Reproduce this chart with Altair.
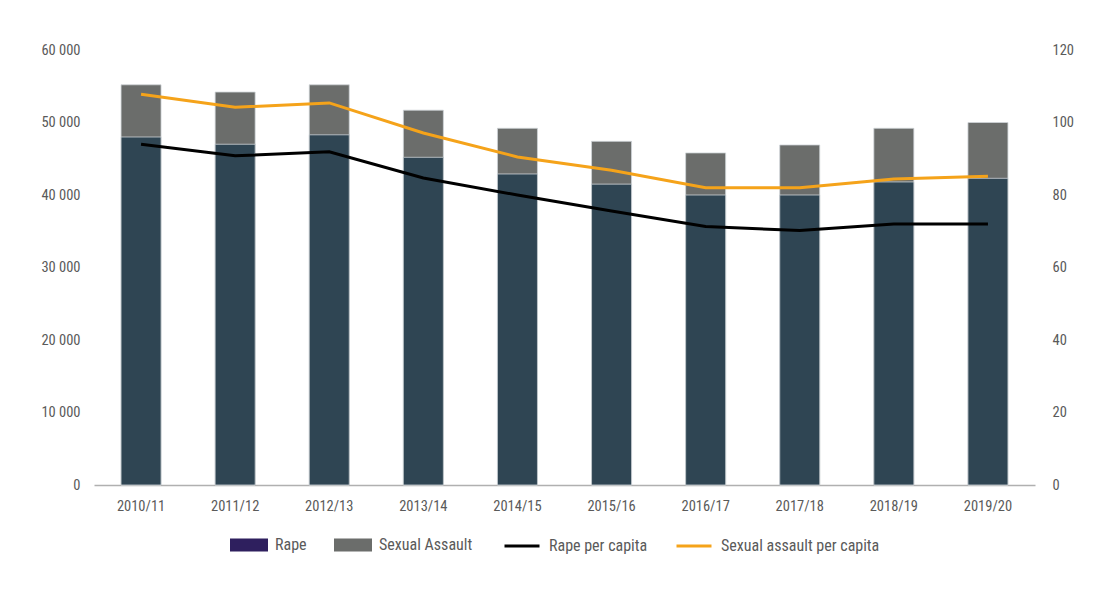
import altair as alt
import pandas as pd

years = ["2010/11", "2011/12", "2012/13", "2013/14", "2014/15",
         "2015/16", "2016/17", "2017/18", "2018/19", "2019/20"]
rape = [48000, 47000, 48300, 45200, 42900, 41500, 40000, 40000, 41800, 42300]
sexual_assault = [55200, 54200, 55200, 51700, 49200, 47400, 45800, 46900, 49200, 50000]
rape_pc = [94.0, 90.8, 91.9, 84.7, 80.0, 75.6, 71.3, 70.2, 72.0, 72.0]
sa_pc = [107.8, 104.2, 105.4, 97.1, 90.5, 86.8, 82.0, 82.0, 84.4, 85.2]

df = pd.DataFrame({"year": years, "rape": rape, "sa": sexual_assault,
                   "rape_pc": rape_pc, "sa_pc": sa_pc})

bar_long = pd.DataFrame({
    "year": years * 2,
    "value": sexual_assault + rape,
    "series": ["Sexual Assault"] * len(years) + ["Rape"] * len(years),
})
line_long = pd.DataFrame({
    "year": years * 2,
    "value": rape_pc + sa_pc,
    "series": ["Rape per capita"] * len(years) + ["Sexual assault per capita"] * len(years),
})

FONT = "'Roboto Condensed', 'DejaVu Sans Condensed', Roboto, sans-serif"
LABEL = "#5a5a5a"
FS = 14.5
LFS = 16

x = alt.X("year:N", sort=years, title=None,
          scale=alt.Scale(paddingInner=0.575, paddingOuter=0.2875),
          axis=alt.Axis(labelAngle=0, ticks=False, domainColor="#b0b0b0",
                        domainWidth=1.5, labelPadding=14, labelFontSize=FS,
                        labelColor=LABEL, labelFont=FONT))

yleft_scale = alt.Scale(domain=[0, 60000])
yleft_axis = alt.Axis(values=[0, 10000, 20000, 30000, 40000, 50000, 60000],
                      labelExpr="replace(format(datum.value, ','), ',', ' ')",
                      grid=False, domain=False, ticks=False, labelPadding=14,
                      labelFontSize=FS, labelColor=LABEL, labelFont=FONT,
                      title=None)

sa_bars = alt.Chart(df).mark_bar(color="#6b6d6b", stroke="#cfd4d8",
                                 strokeWidth=0.8).encode(
    x=x,
    y=alt.Y("sa:Q", scale=yleft_scale, axis=yleft_axis),
)
rape_bars = alt.Chart(df).mark_bar(color="#2f4553", stroke="#cfd4d8",
                                   strokeWidth=0.8).encode(
    x=x,
    y=alt.Y("rape:Q", scale=yleft_scale),
)
legend_bars = alt.Chart(bar_long).mark_point(opacity=0, filled=True).encode(
    x=x,
    y=alt.Y("value:Q", scale=yleft_scale),
    fill=alt.Fill("series:N",
                  scale=alt.Scale(domain=["Rape", "Sexual Assault"],
                                  range=["#2e1f5e", "#6b6d6b"]),
                  legend=alt.Legend(orient="none", direction="horizontal",
                                    legendX=136, legendY=476, title=None,
                                    symbolType="M-1,-0.34L1,-0.34L1,0.34L-1,0.34Z",
                                    symbolSize=1444, symbolOpacity=1,
                                    symbolStrokeWidth=0,
                                    labelFontSize=LFS, labelColor=LABEL,
                                    labelFont=FONT, labelOffset=7,
                                    columnPadding=27)),
)

left = alt.layer(sa_bars, rape_bars, legend_bars)

lines = alt.Chart(line_long).mark_line(strokeWidth=3).encode(
    x=x,
    y=alt.Y("value:Q", scale=alt.Scale(domain=[0, 120]),
            axis=alt.Axis(orient="right",
                          values=[0, 20, 40, 60, 80, 100, 120],
                          grid=False, domain=False, ticks=False,
                          labelPadding=17, labelFontSize=FS,
                          labelColor=LABEL, labelFont=FONT, title=None)),
    stroke=alt.Stroke("series:N",
                      scale=alt.Scale(domain=["Rape per capita", "Sexual assault per capita"],
                                      range=["#000000", "#f5a31a"]),
                      legend=alt.Legend(orient="none", direction="horizontal",
                                        legendX=409, legendY=477, title=None,
                                        symbolType="stroke", symbolSize=1225,
                                        symbolStrokeWidth=3,
                                        labelFontSize=LFS, labelColor=LABEL,
                                        labelFont=FONT, labelOffset=8,
                                        columnPadding=22)),
)

chart = alt.layer(left, lines).resolve_scale(y="independent").properties(
    width=941, height=435,
    padding={"left": 86, "top": 42, "right": 60, "bottom": 90},
    autosize=alt.AutoSizeParams(type="none"),
    background="white",
).configure_view(stroke=None)

chart.save("out.html", embed_options={"renderer": "svg", "actions": False})
